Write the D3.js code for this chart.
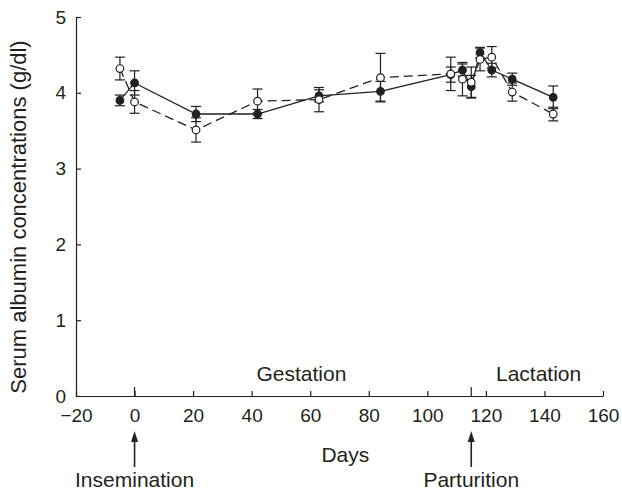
<!DOCTYPE html>
<html>
<head>
<meta charset="utf-8">
<script src="https://cdn.jsdelivr.net/npm/d3@7"></script>
<style>
  body { margin: 0; background: #fff; }
  text { font-family: "Liberation Sans", Arial, sans-serif; fill: #231f20; }
</style>
</head>
<body>
<div id="chart"></div>
<script>
// sampling days (same for both groups)
const days = [-5, 0, 21, 42, 63, 84, 108, 112, 115, 118, 122, 129, 143];

// filled circles, solid line
const filledMean = [3.90, 4.13, 3.72, 3.72, 3.96, 4.02, 4.24, 4.30, 4.08, 4.53, 4.30, 4.18, 3.94];
const filledSem = [0.07, 0.16, 0.10, 0.06, 0.08, 0.13, 0.10, 0.08, 0.15, 0.07, 0.09, 0.08, 0.15];

// open circles, dashed line
const openMean = [4.32, 3.88, 3.51, 3.89, 3.91, 4.20, 4.25, 4.18, 4.14, 4.44, 4.47, 4.01, 3.72];
const openSem = [0.15, 0.15, 0.16, 0.16, 0.16, 0.32, 0.22, 0.22, 0.20, 0.15, 0.14, 0.12, 0.09];

const xTicks = [-20, 0, 20, 40, 60, 80, 100, 120, 140, 160];
const yTicks = [0, 1, 2, 3, 4, 5];

// events marked below the axis
const events = [{day: 0, label: 'Insemination'}, {day: 115, label: 'Parturition'}];
const periods = [{day: 57, label: 'Gestation'}, {day: 138, label: 'Lactation'}];

const width = 622;
const height = 494;
const margin = {top: 17, right: 19, bottom: 98, left: 76};
const labelSize = 21;

const svg = d3.select('#chart').append('svg')
  .attr('width', width)
  .attr('height', height);

const x = d3.scaleLinear().domain([-20, 160]).range([margin.left, width - margin.right]);
const y = d3.scaleLinear().domain([0, 5]).range([height - margin.bottom, margin.top]);

const ink = '#231f20';

// axes with inward ticks
const xAxis = svg.append('g')
  .attr('transform', 'translate(0,' + y(0) + ')')
  .call(d3.axisBottom(x).tickValues(xTicks).tickSizeInner(-5).tickSizeOuter(0)
    .tickPadding(13).tickFormat(d => d < 0 ? '\u2212' + Math.abs(d) : d));
xAxis.selectAll('text').attr('font-size', 19).attr('dy', '0.71em');

const yAxis = svg.append('g')
  .attr('transform', 'translate(' + x(-20) + ',0)')
  .call(d3.axisLeft(y).tickValues(yTicks).tickSizeInner(-5).tickSizeOuter(0)
    .tickPadding(10).tickFormat(d3.format('d')));
yAxis.selectAll('text').attr('font-size', 19);

svg.selectAll('.domain, .tick line').attr('stroke', ink).attr('stroke-width', 1.2);

// longer marks at insemination and parturition
svg.append('g').selectAll('line')
  .data(events)
  .enter().append('line')
  .attr('x1', d => x(d.day)).attr('x2', d => x(d.day))
  .attr('y1', y(0)).attr('y2', y(0) - 9)
  .attr('stroke', ink).attr('stroke-width', 1.2);

// arrows and labels
const arrows = svg.append('g').selectAll('g')
  .data(events)
  .enter().append('g')
  .attr('transform', d => 'translate(' + x(d.day) + ',0)');
arrows.append('line')
  .attr('y1', 467).attr('y2', 440)
  .attr('stroke', ink).attr('stroke-width', 1.6);
arrows.append('path')
  .attr('d', 'M0,431 L-3.5,442 L3.5,442 Z')
  .attr('fill', ink);
arrows.append('text')
  .attr('y', 487).attr('text-anchor', 'middle').attr('font-size', labelSize)
  .text(d => d.label);

svg.append('g').selectAll('text')
  .data(periods)
  .enter().append('text')
  .attr('x', d => x(d.day)).attr('y', 381)
  .attr('text-anchor', 'middle').attr('font-size', labelSize)
  .text(d => d.label);

svg.append('text')
  .attr('x', x(72)).attr('y', 462)
  .attr('text-anchor', 'middle').attr('font-size', labelSize)
  .text('Days');

svg.append('text')
  .attr('transform', 'rotate(-90)')
  .attr('x', -217).attr('y', 26)
  .attr('text-anchor', 'middle').attr('font-size', 22)
  .text('Serum albumin concentrations (g/dl)');

// build series
const series = [
  {mean: filledMean, sem: filledSem, dash: null, fill: ink},
  {mean: openMean, sem: openSem, dash: '9,5', fill: '#fff'}
].map(s => Object.assign(s, {points: days.map((d, i) => ({day: d, v: s.mean[i], e: s.sem[i]}))}));

const plot = svg.append('g');

// error bars
series.forEach(s => {
  const bars = plot.append('g').selectAll('g')
    .data(s.points)
    .enter().append('g')
    .attr('stroke', ink).attr('stroke-width', 1.2);
  bars.append('line')
    .attr('x1', d => x(d.day)).attr('x2', d => x(d.day))
    .attr('y1', d => y(d.v - d.e)).attr('y2', d => y(d.v + d.e));
  [-1, 1].forEach(sign => {
    bars.append('line')
      .attr('x1', d => x(d.day) - 5).attr('x2', d => x(d.day) + 5)
      .attr('y1', d => y(d.v + sign * d.e)).attr('y2', d => y(d.v + sign * d.e));
  });
});

// lines
const line = d3.line().x(d => x(d.day)).y(d => y(d.v));
series.forEach(s => {
  plot.append('path')
    .datum(s.points)
    .attr('d', line)
    .attr('fill', 'none')
    .attr('stroke', ink)
    .attr('stroke-width', 1.3)
    .attr('stroke-dasharray', s.dash);
});

// markers
series.forEach(s => {
  plot.append('g').selectAll('circle')
    .data(s.points)
    .enter().append('circle')
    .attr('cx', d => x(d.day)).attr('cy', d => y(d.v))
    .attr('r', 3.8)
    .attr('fill', s.fill)
    .attr('stroke', ink)
    .attr('stroke-width', 1.2);
});
</script>
</body>
</html>
